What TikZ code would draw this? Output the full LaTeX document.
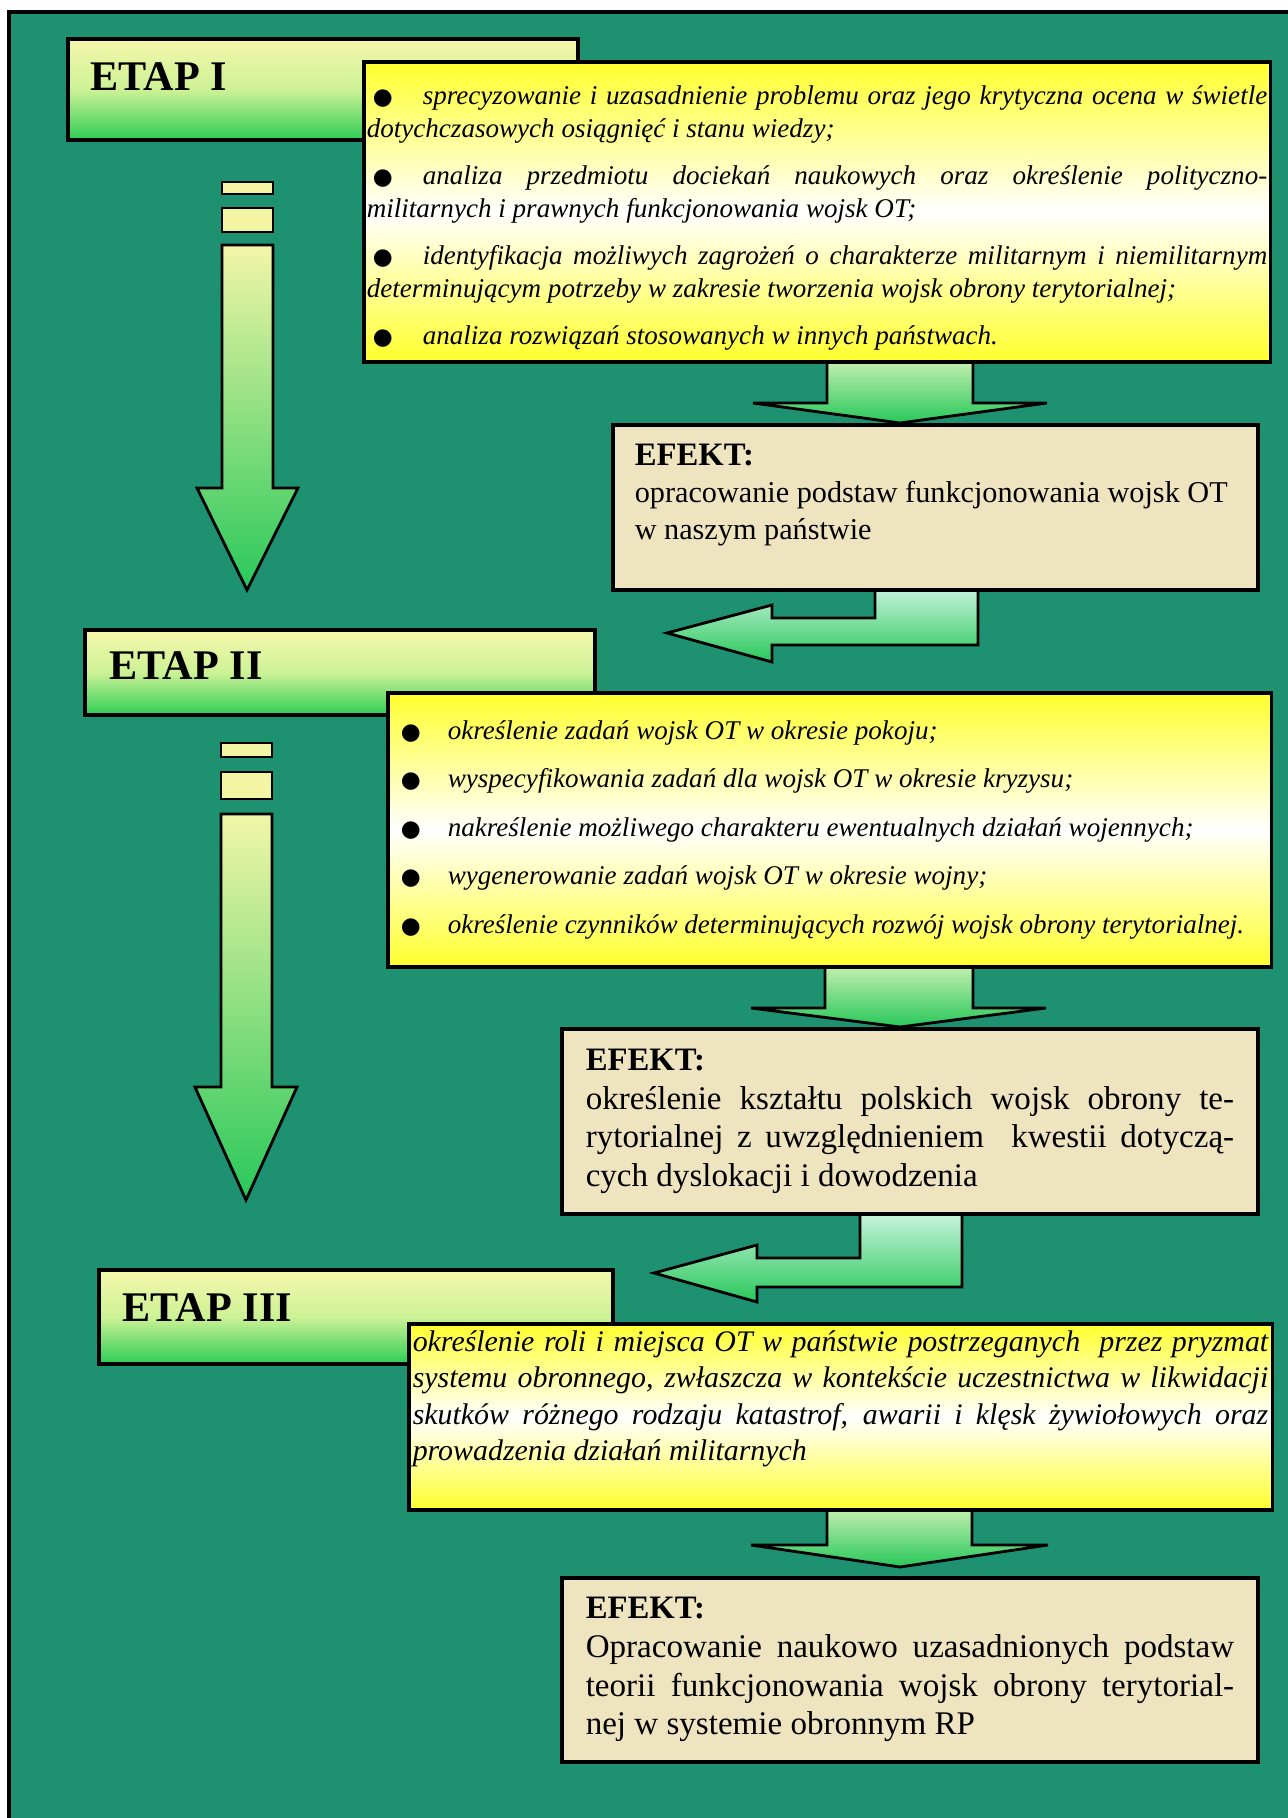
\documentclass[tikz,border=0pt]{standalone}
\usepackage{fontspec}
\setmainfont{Liberation Serif}
\newfontfamily\symbolfont{DejaVu Sans}
\usepackage{tikz}
\usepackage{xcolor}

\definecolor{panelgreen}{RGB}{30,146,112}
\definecolor{etaptop}{RGB}{246,247,172}
\definecolor{etapmid}{RGB}{205,242,150}
\definecolor{etapbot}{RGB}{45,205,85}
\definecolor{taskyellow}{RGB}{255,255,45}
\definecolor{effectbeige}{RGB}{238,228,192}
\definecolor{arrowtop}{RGB}{222,246,190}
\definecolor{arrowbot}{RGB}{40,200,90}
\definecolor{turntop}{RGB}{215,247,232}
\definecolor{stagetop}{RGB}{242,246,168}
\definecolor{stripefill}{RGB}{244,244,165}

\newcommand{\pkt}{{\upshape\symbolfont\fontsize{6.5}{6.5}\selectfont ●}}
\newcommand{\padbottom}[1]{\par\nointerlineskip\vspace{#1}\null}

\begin{document}
\begin{tikzpicture}[x=0.01cm,y=-0.01cm,
  etapbox/.style={draw,line width=1pt,anchor=north west,inner sep=0pt,
    top color=etaptop,bottom color=etapbot,middle color=etapmid},
  etaplabel/.style={anchor=west,inner sep=0pt,font=\fontsize{12}{14}\selectfont\bfseries},
  taskbox/.style={draw,line width=1pt,anchor=north west,inner ysep=0pt,align=justify,
    top color=taskyellow,bottom color=taskyellow,middle color=white},
  effectbox/.style={draw,line width=1pt,anchor=north west,inner ysep=0pt,align=justify,
    fill=effectbeige},
  blockarrow/.style={draw,line width=0.8pt,top color=arrowtop,bottom color=arrowbot},
  turnarrow/.style={draw,line width=0.8pt,top color=turntop,bottom color=arrowbot},
  stagearrow/.style={draw,line width=0.8pt,top color=stagetop,bottom color=arrowbot},
  stripe/.style={draw,line width=0.8pt,fill=stripefill}]
\useasboundingbox (0,0) rectangle (1288,1818);
\fill[panelgreen] (9,12) rectangle (1300,1830);
\draw[line width=1pt] (9,1830) -- (9,12) -- (1300,12);

% stage to stage
\draw[stripe] (222,182) rectangle (273,194);
\draw[stripe] (222,208) rectangle (273,232);
\draw[stagearrow] (222,245) -- (222,488) -- (197,488) -- (247,590) -- (298,488) -- (273,488) -- (273,245) -- cycle;
\draw[stripe] (221,743) rectangle (272,757);
\draw[stripe] (221,772) rectangle (272,799);
\draw[stagearrow] (221,814) -- (221,1087) -- (195,1087) -- (246,1200) -- (297,1087) -- (272,1087) -- (272,814) -- cycle;

% tasks to effect
\draw[blockarrow] (827,350) -- (827,403) -- (753,403) -- (900,423) -- (1047,403) -- (973,403) -- (973,350) -- cycle;
\draw[blockarrow] (825,955) -- (825,1008) -- (751,1008) -- (900,1027) -- (1046,1008) -- (973,1008) -- (973,955) -- cycle;
\draw[blockarrow] (827,1498) -- (827,1545) -- (751,1545) -- (900,1567) -- (1048,1545) -- (972,1545) -- (972,1498) -- cycle;

% effect to next stage
\draw[turnarrow] (875,580) -- (875,618) -- (772,618) -- (772,605) -- (667,633) -- (772,662) -- (772,645) -- (978,645) -- (978,580) -- cycle;
\draw[turnarrow] (860,1205) -- (860,1258) -- (757,1258) -- (757,1245) -- (654,1273) -- (757,1302) -- (757,1287) -- (962,1287) -- (962,1205) -- cycle;

\node[etapbox,minimum width=5.10cm,minimum height=1.01cm] (etapI) at (66,37) {};
\node[etaplabel] (etapIlabel) at (90,77) {ETAP I};
\node[etapbox,minimum width=5.10cm,minimum height=0.85cm] (etapII) at (83,628) {};
\node[etaplabel] (etapIIlabel) at (109,666) {ETAP II};
\node[etapbox,minimum width=5.14cm,minimum height=0.94cm] (etapIII) at (97,1268) {};
\node[etaplabel] (etapIIIlabel) at (122,1308) {ETAP III};

\node[taskbox,minimum width=9.06cm,minimum height=3.0cm,text width=9.0cm,inner xsep=0.03cm,
  font=\fontsize{7.7}{9.35}\selectfont\itshape] (tasksI) at (362,60) {%
\makebox[0.56cm][l]{\hspace{0.06cm}\pkt}sprecyzowanie i uzasadnienie problemu oraz jego krytyczna ocena w świetle\linebreak
dotychczasowych osiągnięć i stanu wiedzy;\\[4pt]
\makebox[0.56cm][l]{\hspace{0.06cm}\pkt}analiza przedmiotu dociekań naukowych oraz określenie polityczno-\linebreak
militarnych i prawnych funkcjonowania wojsk OT;\\[4pt]
\makebox[0.56cm][l]{\hspace{0.06cm}\pkt}identyfikacja możliwych zagrożeń o charakterze militarnym i niemilitarnym\linebreak
determinującym potrzeby w zakresie tworzenia wojsk obrony terytorialnej;\\[4pt]
\makebox[0.56cm][l]{\hspace{0.06cm}\pkt}analiza rozwiązań stosowanych w innych państwach.\padbottom{-0.12cm}};

\node[taskbox,minimum width=8.83cm,minimum height=2.74cm,text width=8.63cm,inner xsep=0.1cm,
  font=\fontsize{7.7}{9.4}\selectfont\itshape] (tasksII) at (386,691) {%
\makebox[0.5cm][l]{\hspace{0.03cm}\pkt}określenie zadań wojsk OT w okresie pokoju;\\[4.4pt]
\makebox[0.5cm][l]{\hspace{0.03cm}\pkt}wyspecyfikowania zadań dla wojsk OT w okresie kryzysu;\\[4.4pt]
\makebox[0.5cm][l]{\hspace{0.03cm}\pkt}nakreślenie możliwego charakteru ewentualnych działań wojennych;\\[4.4pt]
\makebox[0.5cm][l]{\hspace{0.03cm}\pkt}wygenerowanie zadań wojsk OT w okresie wojny;\\[4.4pt]
\makebox[0.5cm][l]{\hspace{0.03cm}\pkt}określenie czynników determinujących rozwój wojsk obrony terytorialnej.};

\node[taskbox,minimum width=8.63cm,minimum height=1.86cm,text width=8.55cm,inner xsep=0.04cm,
  font=\fontsize{8.5}{10.4}\selectfont\itshape] (tasksIII) at (407,1322) {%
określenie roli i miejsca OT w państwie postrzeganych \ przez pryzmat\linebreak
systemu obronnego, zwłaszcza w kontekście uczestnictwa w likwidacji\linebreak
skutków różnego rodzaju katastrof, awarii i klęsk żywiołowych oraz\linebreak
prowadzenia działań militarnych\padbottom{0.36cm}};

\node[effectbox,minimum width=6.45cm,minimum height=1.65cm,text width=6.01cm,inner xsep=0.22cm,
  font=\fontsize{8.6}{10.5}\selectfont] (effectI) at (611,423) {%
{\fontsize{9.3}{10.5}\selectfont\bfseries EFEKT:}\\
opracowanie podstaw funkcjonowania wojsk OT\\
w naszym państwie\padbottom{0.25cm}};

\node[effectbox,minimum width=6.96cm,minimum height=1.85cm,text width=6.48cm,inner xsep=0.24cm,
  font=\fontsize{9.4}{11}\selectfont] (effectII) at (560,1027) {%
{\fontsize{9.3}{11}\selectfont\bfseries EFEKT:}\\
określenie kształtu polskich wojsk obrony te-\linebreak
rytorialnej z uwzględnieniem \ kwestii dotyczą-\linebreak
cych dyslokacji i dowodzenia};

\node[effectbox,minimum width=6.96cm,minimum height=1.84cm,text width=6.48cm,inner xsep=0.24cm,
  font=\fontsize{9.4}{11}\selectfont] (effectIII) at (560,1576) {%
{\fontsize{9.3}{11}\selectfont\bfseries EFEKT:}\\
Opracowanie naukowo uzasadnionych podstaw\linebreak
teorii funkcjonowania wojsk obrony terytorial-\linebreak
nej w systemie obronnym RP};
\end{tikzpicture}
\end{document}
